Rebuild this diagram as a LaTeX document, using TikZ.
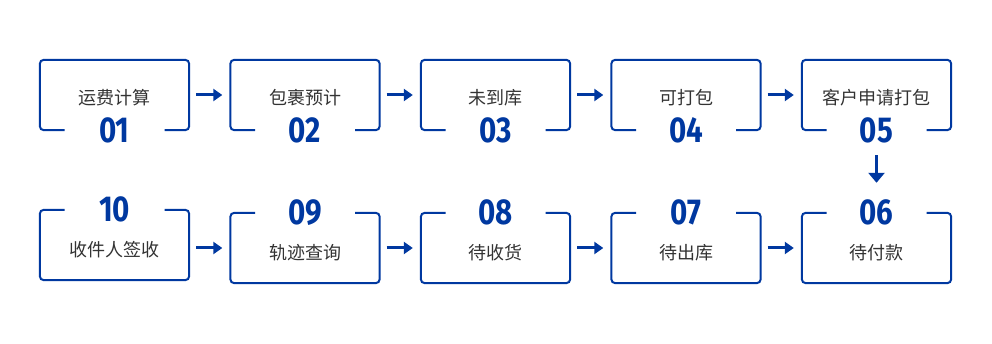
\documentclass[tikz,border=0pt]{standalone}
\usepackage{fontspec}
\setmainfont{Noto Sans CJK SC}
\newfontfamily\numfont[FakeStretch=0.82]{Fira Sans}
\usetikzlibrary{arrows.meta,calc}
\definecolor{flowblue}{RGB}{0,56,160}
\definecolor{flowgray}{RGB}{51,51,51}
\tikzset{
  stepbox/.style={minimum width=149pt,minimum height=70pt,inner sep=0pt},
  boxline/.style={flowblue,line width=2pt,rounded corners=4pt},
  steptext/.style={text=flowgray,font=\fontsize{18}{20}\selectfont},
  stepnum/.style={text=flowblue,font=\numfont\bfseries\fontsize{36}{36}\selectfont,inner sep=0pt},
  flowarrow/.style={flowblue,line width=3pt,-{Triangle[length=9pt,width=12pt]}}
}

\begin{document}
\begin{tikzpicture}[x=1pt,y=-1pt]
\useasboundingbox (0,0) rectangle (992,344);
% top row, 01 to 05
\foreach \i/\t in {1/运费计算,2/包裹预计,3/未到库,4/可打包,5/客户申请打包} {
  \node[stepbox] (b\i) at ({114.5+(\i-1)*190.5},95) {};
  \draw[boxline] ([xshift=-50pt]b\i.south) -- (b\i.south west) -- (b\i.north west)
    -- (b\i.north east) -- (b\i.south east) -- ([xshift=50pt]b\i.south);
  \node[steptext] (t\i) at ([yshift=-3pt]b\i.center) {\t};
  \node[stepnum] (n\i) at (b\i.south) {0\i};
}
% bottom row, 06 to 10
\foreach \i/\n/\t/\y in {6/06/待付款/248,7/07/待出库/248,8/08/待收货/248,9/09/轨迹查询/248,10/10/收件人签收/245} {
  \node[stepbox] (b\i) at ({114.5+(10-\i)*190.5},\y) {};
  \draw[boxline] ([xshift=-50pt]b\i.north) -- (b\i.north west) -- (b\i.south west)
    -- (b\i.south east) -- (b\i.north east) -- ([xshift=50pt]b\i.north);
  \node[steptext] (t\i) at ([yshift=-5pt]b\i.center) {\t};
  \node[stepnum] (n\i) at (b\i.north) {\n};
}
% arrows
\foreach \i/\j in {1/2,2/3,3/4,4/5} {
  \draw[flowarrow,shorten <=7pt,shorten >=8pt] (b\i.east) -- (b\j.west);
}
\foreach \i/\j in {10/9,9/8,8/7,7/6} {
  \draw[flowarrow,shorten <=7pt,shorten >=8pt] (b\i.east |- b\j.west) -- (b\j.west);
}
\draw[flowarrow,-{Triangle[length=10pt,width=16pt]},shorten <=25pt,shorten >=30pt] (b5.south) -- (b6.north);
\end{tikzpicture}
\end{document}
